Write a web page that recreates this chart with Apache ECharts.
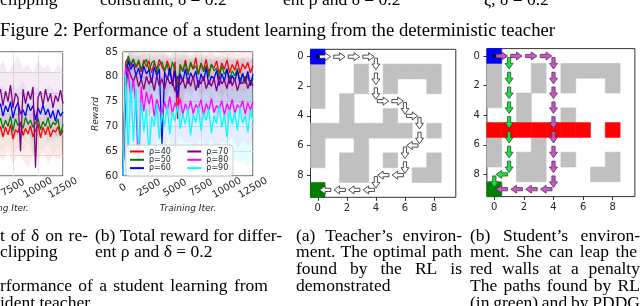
<!DOCTYPE html>
<html><head><meta charset="utf-8">
<script src="https://cdn.jsdelivr.net/npm/echarts@6/dist/echarts.min.js"></script>
<style>html,body{margin:0;padding:0;background:#fff}#c{width:640px;height:306px}</style>
</head><body><div id="c"></div>
<script>
// ---------------- DATA ----------------
// (b) Total reward, sampled every 250 iterations from 0 to 12500
var rho40 = [60,83,83.8,82.2,83.5,81.8,83,81,83.4,82,83.2,80.8,82.8,81.5,83.5,82,81,83.2,81.8,78.5,83,71.5,82.5,81.2,83.4,80.8,82.6,81.5,83.8,80.5,82.8,81.4,83.5,80.8,82.4,81.8,83.2,80.6,82.8,81.5,83.4,80.8,82.5,81.3,83.3,80.7,82.6,81.6,82.9,80.8,82.2];
var rho50 = [60,81,84.2,82.5,83.6,82,83.4,81.5,82.8,83.5,81.2,82.8,83.3,80.8,82.5,83,81.2,82.6,80.2,83,81.4,77.8,82.4,81,82.8,80.3,83,81.6,82.2,80.4,82.7,81,82.3,80,82.6,81.2,81.8,79.8,82.2,80.5,81.6,79.6,81.2,80.2,81.7,79.2,80.8,78.6,80.3,78.2,79.8];
var rho60 = [60,79,83.2,81.5,82.6,80.2,81.8,79.5,82.2,80.6,81.4,78.8,82,80.2,81.6,66.5,81,79.4,81.7,78.2,81.2,75.8,80.6,79,81.6,78.6,80.8,79.6,81.2,77.8,80.6,79.2,81.8,78.4,80.2,79.6,81.3,78.2,80.7,79.1,81.6,78.6,80.3,79.2,81.2,78.5,80.6,79.1,81.1,78.2,80.5];
var rho70 = [60,77,82,80.2,79,80.6,78,79.6,77.4,80.1,78.5,79.7,77.2,80.2,78.2,79.6,77.5,80,78.6,79.2,77,80.2,78.4,79.6,77.6,79.8,78.1,80.2,77.2,79.2,78.6,80.1,77.6,79.2,78.1,79.7,77.1,80.1,78.6,79.3,77.6,80.2,78.2,79.6,77.2,79.1,78.6,80.1,77.6,79.3,78.2];
var rho80 = [60,82,80.5,76,79.5,74,60.5,78,73,77,74.5,76.5,72,75.5,73.5,72,75,73,76,72.5,74.8,73.2,75.6,72.4,74.6,73,75.2,72.6,74.4,73.6,75.4,72.2,74.6,73.2,75.6,72.8,74.2,73.5,75.2,72.3,74.6,73.2,75.5,72.6,74.4,73.6,75.2,72.5,74.8,73.3,75];
var rho90 = [60,80.5,64,79,67,77.5,65,75,69,73.5,63.5,72,70,74.5,67.5,72.8,70.2,74,68.5,73,71,74.2,69.5,72.6,70.4,73.8,68.2,72.4,70.8,74,69.2,72.8,71.2,73.6,68.6,72.2,70.6,74.2,69.8,72.5,67.8,73.4,70.4,72.8,69.2,73.9,70.6,72.2,68.8,73.4,71];
// pale spread bands, every 500 iterations from 0 to 12500
var band40Lo = [60,78,77,79,76,78.5,77,79,75,78,77.5,70,78,77,79,76.5,78,77.5,79,76,78,77,78.5,76.5,78,77];
var band40Hi = [62,85,85,84.5,85,84.8,85,84.6,85,84.4,85,84.8,85,84.5,85,84.9,84.6,85,84.4,85,84.7,85,84.5,85,84.6,85];
var band50Lo = [60,77,78,76.5,78,75.5,77,76,74,77.5,75,73,77,76,78,75,77,74.5,76.5,75,76,74,75.5,73.5,75,74];
var band50Hi = [62,85,84.8,85,84.5,84.8,84.3,85,84.6,84.2,84.8,84.5,84.6,84.2,84.7,84.4,84.2,84.6,84,84.3,83.8,84.2,83.6,84,83.4,83.8];
var band60Lo = [60,74,76,73,75.5,72,74,66,73.5,72,74.5,71,73,74,72,73.5,71.5,74,72.5,73,71,74,72.5,73.5,71.5,73];
var band60Hi = [62,84.8,84.5,84.2,84.6,83.8,84.2,84,84.5,83.6,84,83.8,84.3,83.5,84.1,83.7,84.3,83.5,84,83.6,84.2,83.4,83.9,83.6,84.1,83.5];
var band70Lo = [60,70,73,71,74,72,73.5,70.5,73,71.5,74,72,73,70,73.5,71,72.5,73.5,71,73,72,70.5,73.5,72,71,73];
var band70Hi = [62,84.5,83.5,84,83.2,83.8,83,83.6,83.2,83.8,83,83.5,83.2,83.7,83,83.4,83.1,83.6,83,83.5,83.2,83.6,83,83.4,83.1,83.5];
var band80Lo = [60,65,62,66,64,67,65.5,68,66,67.5,65,68,66.5,67,65.5,68,66,67.5,65,67,66.5,68,65.5,67,66,67.5];
var band80Hi = [62,84,83,82,81.5,80.5,81,80,80.8,79.6,80.4,79.8,80.6,79.5,80.2,79.8,80.5,79.4,80,79.6,80.3,79.5,80.1,79.7,80.4,79.6];
var band90Lo = [60,60,60,61,60,62,60.5,63,61,64,62,63.5,61.5,64,62.5,63,61,64.5,62,63.5,61.5,64,62.5,63,62,64];
var band90Hi = [62,83,82,80.5,80,79,79.5,78.5,79,78,78.8,77.6,78.4,78,78.6,77.4,78.2,77.8,78.5,77.6,78.1,77.4,78.3,77.8,78.2,77.6];

// partially visible panel on the left, every 250 iterations from 6000 to 12500
var leftRed    = [60.5,62,59.5,61.8,60,62.5,59,61.2,60.5,62.8,59.8,61.5,60.2,62.2,59.5,61,62.5,59.2,61.8,60,62,59.5,61.2,60.6,62,59.8,61];
var leftGreen  = [62.5,64,61.5,63.5,62,64.5,61,63.8,62.2,63,61.5,64.2,62.5,63.5,61.8,62.8,64,61.2,63.2,62,64.2,61.5,63,62.4,63.8,60,62.5];
var leftBlue   = [66,67.5,64.5,67,65.5,68,64,66.5,67.8,65,66,64.5,67.5,65.8,67,63.5,66.5,65,67.2,64.8,66.2,64,65.8,63.2,66,64.5,65.5];
var leftPurple = [69,71,67,70.5,68,72,66.5,70,69,56,71,67.5,70.5,68.5,71.5,52,69,70.5,67,71,68,70,66.5,69.5,68,70.8,67.5];
// left bands every 500 from 6000 to 12500
var leftRedLo = [55,54,56,53,55,54,52,55,54,56,53,55,54,55];
var leftRedHi = [65,66,64,66,65,67,64,66,65,64,66,65,64,65];
var leftGreenLo = [57,56,58,55,57,56,58,55,57,56,58,55,57,56];
var leftGreenHi = [67,68,66,68,67,69,66,68,67,66,68,67,66,67];
var leftBlueLo = [60,59,61,58,60,59,61,58,60,59,61,58,60,59];
var leftBlueHi = [71,72,70,72,71,73,70,72,71,70,72,71,70,71];
var leftPurpleLo = [62,60,63,58,61,59,62,55,60,62,58,61,59,62];
var leftPurpleHi = [76,78,75,77,79,76,77,75,78,76,77,75,77,76];

var legendNames = ['ρ=40','ρ=50','ρ=60','ρ=70','ρ=80','ρ=90'];
var xTicks = [0,2500,5000,7500,10000,12500];
var gridTicks = [0,2,4,6,8];

// Grid world: walls as [row, col]
var grayWalls = [[1,0],[1,3],[1,5],[1,6],[1,7],[1,8],[2,0],[2,3],[2,5],[2,8],[3,0],[3,2],[4,2],[4,5],
  [6,0],[6,3],[7,0],[7,2],[7,3],[7,5],[7,8],[8,2],[8,3],[8,7],[8,8]];
var row5Walls = [[5,0],[5,1],[5,2],[5,3],[5,4],[5,5],[5,6],[5,8]];
var startCell = [0,0];
var goalCell = [9,0];
// paths as [row, col, direction]
var teacherPath = [[0,0,'R'],[0,1,'R'],[0,2,'R'],[0,3,'R'],[0,4,'D'],[1,4,'D'],[2,4,'D'],[3,4,'R'],[3,5,'R'],[3,6,'D'],
  [4,6,'R'],[4,7,'D'],[5,7,'D'],[6,7,'L'],[6,6,'D'],[7,6,'D'],[8,6,'L'],[8,5,'L'],[8,4,'D'],[9,4,'L'],[9,3,'L'],[9,2,'L'],[9,1,'L']];
var greenPath = [[0,0,'R'],[0,1,'D'],[1,1,'D'],[2,1,'D'],[3,1,'D'],[4,1,'D'],[5,1,'D'],[6,1,'D'],[7,1,'D'],[8,1,'L'],[8,0,'D']];
var purplePath = [[0,0,'R'],[0,1,'R'],[0,2,'R'],[0,3,'R'],[0,4,'D'],[1,4,'D'],[2,4,'D'],[3,4,'D'],[4,4,'D'],[5,4,'D'],
  [6,4,'D'],[7,4,'D'],[8,4,'D'],[9,4,'L'],[9,3,'L'],[9,2,'L'],[9,1,'L']];

// captions
var topCut = ['clipping','constraint, δ = 0.2','ent ρ and δ = 0.2','ζ, δ = 0.2'];
var figCaption = 'Figure 2: Performance of a student learning from the deterministic teacher';
var capLeft = ['t of δ on re-','clipping','rformance of a student learning from','ident teacher'];
var capB = ['(b) Total reward for differ-','ent ρ and δ = 0.2'];
var capTeacher = ['(a) Teacher’s environ-','ment. The optimal path','found by the RL is','demonstrated'];
var capStudent = ['(b) Student’s environ-','ment. She can leap the','red walls at a penalty','The paths found by RL','(in green) and by PDDG'];

// ---------------- BUILD ----------------
function range(a,b,s){var o=[];for(var v=a;v<=b;v+=s)o.push(v);return o;}
var it250 = range(0,12500,250), it500 = range(0,12500,500);
var itL250 = range(6000,12500,250), itL500 = range(6000,12500,500);
function pairs(xs, ys){var o=[];for(var i=0;i<Math.min(xs.length,ys.length);i++)o.push([xs[i],ys[i]]);return o;}

var COLORS = ['#ff0000','#008000','#0000ff','#800080','#ff00ff','#00ffff'];
function rgba(hex,a){var n=parseInt(hex.slice(1),16);return 'rgba('+(n>>16)+','+((n>>8)&255)+','+(n&255)+','+a+')';}
var FONT = 'DejaVu Sans', TXT = '#262626';
var series = [];
function band(xs, lo, hi, color, xi, op){
  var d = []; for (var i=0;i<xs.length;i++) d.push([xs[i], lo[i], hi[i]]);
  var fill = rgba(color, op);
  series.push({type:'custom', xAxisIndex:xi, yAxisIndex:xi, data:d, dimensions:['x','lo','hi'], encode:{x:0, y:[1,2]},
    clip:true, silent:true, z:1,
    renderItem:function(params, api){
      if (params.dataIndexInside !== 0) return null;
      var n = params.dataInsideLength, top=[], bot=[];
      for (var i=0;i<n;i++){
        top.push(api.coord([api.value(0,i), api.value(2,i)]));
        bot.push(api.coord([api.value(0,i), api.value(1,i)]));
      }
      return {type:'polygon', shape:{points: top.concat(bot.reverse())}, style:{fill:fill}};
    }});
}
function mainLine(name, xs, ys, color, xi){
  series.push({type:'line', name:name, xAxisIndex:xi, yAxisIndex:xi, data:pairs(xs,ys), symbol:'none',
    lineStyle:{width:1.3, color:color}, itemStyle:{color:color}, z:3});
}
// left panel
band(itL500, leftRedLo, leftRedHi, COLORS[0], 0, 0.08);
band(itL500, leftGreenLo, leftGreenHi, COLORS[1], 0, 0.05);
band(itL500, leftBlueLo, leftBlueHi, COLORS[2], 0, 0.05);
band(itL500, leftPurpleLo, leftPurpleHi, COLORS[3], 0, 0.08);
mainLine('L40', itL250, leftRed, COLORS[0], 0);
mainLine('L50', itL250, leftGreen, COLORS[1], 0);
mainLine('L60', itL250, leftBlue, COLORS[2], 0);
mainLine('L70', itL250, leftPurple, COLORS[3], 0);
// middle panel
var bandsLo = [band40Lo,band50Lo,band60Lo,band70Lo,band80Lo,band90Lo];
var bandsHi = [band40Hi,band50Hi,band60Hi,band70Hi,band80Hi,band90Hi];
var mains = [rho40,rho50,rho60,rho70,rho80,rho90];
var bandOp = [0.08,0.07,0.06,0.07,0.08,0.1];
for (var k=0;k<6;k++) band(it500, bandsLo[k], bandsHi[k], COLORS[k], 1, bandOp[k]);
for (var k=0;k<6;k++) mainLine(legendNames[k], it250, mains[k], COLORS[k], 1);

// grid worlds
var CELL = {gray:'#c0c0c0', red:'#ff0000', blue:'#0000ff', green:'#007f00'};
function cellData(rowFive){
  var d = [];
  grayWalls.forEach(function(w){d.push([w[1],w[0],'gray']);});
  row5Walls.forEach(function(w){d.push([w[1],w[0],rowFive]);});
  d.push([startCell[1],startCell[0],'blue']);
  d.push([goalCell[1],goalCell[0],'green']);
  return d;
}
function renderCell(params, api){
  var c=api.value(0), r=api.value(1), col=CELL[api.value(2)];
  var p0=api.coord([c-0.5,r-0.5]), p1=api.coord([c+0.5,r+0.5]);
  return {type:'rect', shape:{x:Math.min(p0[0],p1[0]), y:Math.min(p0[1],p1[1]), width:Math.abs(p1[0]-p0[0]), height:Math.abs(p1[1]-p0[1])},
    style:{fill:col, stroke:col, lineWidth:0.6}};
}
var DIRS = {R:[1,0], L:[-1,0], D:[0,1], U:[0,-1]};
function arrowRenderer(fill, stroke){
  return function(params, api){
    var c=api.value(0), r=api.value(1), d=DIRS[api.value(2)];
    var dx=d[0], dy=d[1], px=-dy, py=dx;
    function P(a,w){return api.coord([c+dx*a+px*w, r+dy*a+py*w]);}
    var pts=[P(0.1,0.11),P(0.5,0.11),P(0.5,0.27),P(0.88,0),P(0.5,-0.27),P(0.5,-0.11),P(0.1,-0.11)];
    return {type:'polygon', shape:{points:pts}, style:{fill:fill, stroke:stroke, lineWidth:0.8}};
  };
}
function pathData(p){return p.map(function(s){return [s[1],s[0],s[2]];});}
function addGrid(gi, rowFive, paths){
  series.push({type:'custom', xAxisIndex:gi, yAxisIndex:gi, renderItem:renderCell, data:cellData(rowFive),
    dimensions:['x','y',{name:'t',type:'ordinal'}], encode:{x:0,y:1}, silent:true, z:2});
  paths.forEach(function(p){
    series.push({type:'custom', xAxisIndex:gi, yAxisIndex:gi, renderItem:arrowRenderer(p.fill,p.stroke), data:pathData(p.data),
      dimensions:['x','y',{name:'d',type:'ordinal'}], encode:{x:0,y:1}, silent:true, z:4});
  });
  series.push({type:'scatter', xAxisIndex:gi, yAxisIndex:gi, data:[[startCell[1],startCell[0]]], symbolSize:4,
    itemStyle:{color:'#000'}, silent:true, z:5});
}
addGrid(2, 'gray', [{data:teacherPath, fill:'#ffffff', stroke:'#222'}]);
addGrid(3, 'red', [{data:greenPath, fill:'#22dd44', stroke:'#225522'}, {data:purplePath, fill:'#cc55cc', stroke:'#553355'}]);

// axes
function lineAxisX(gi){
  return {gridIndex:gi, type:'value', min:0, max:12500, interval:2500,
    axisLine:{show:false, onZero:false}, axisTick:{show:false}, splitLine:{show:true, lineStyle:{color:'#e3e3e3', width:1}},
    axisLabel:{rotate:30, align:'center', verticalAlign:'middle', margin:12, fontSize:10, color:TXT, fontFamily:FONT,
      customValues:xTicks, formatter:function(v){return String(v);}},
    name:'Training Iter.', nameLocation:'middle', nameGap:28,
    nameTextStyle:{fontStyle:'italic', fontSize:9, color:TXT, fontFamily:FONT}};
}
function gridAxis(gi, isY){
  var a = {gridIndex:gi, type:'value', min:-0.5, max:9.5, splitLine:{show:false}, axisLine:{show:false, onZero:false},
    axisTick:{show:true, length:3.5, customValues:gridTicks, lineStyle:{color:'#333'}},
    axisLabel:{customValues:gridTicks, margin:isY?7:6, fontSize:10, color:TXT, fontFamily:FONT}};
  if (isY) a.inverse = true;
  return a;
}
var xAxis = [lineAxisX(0), lineAxisX(1), gridAxis(2,false), gridAxis(3,false)];
var yAxis = [
  {gridIndex:0, type:'value', min:50, max:80, interval:5, axisLabel:{show:false}, axisLine:{show:false, onZero:false}, axisTick:{show:false},
    splitLine:{lineStyle:{color:'#e3e3e3'}}},
  {gridIndex:1, type:'value', min:60, max:85, interval:5, axisLine:{show:false, onZero:false}, axisTick:{show:false},
    splitLine:{lineStyle:{color:'#e3e3e3'}},
    axisLabel:{margin:5, fontSize:10, color:TXT, fontFamily:FONT},
    name:'Reward', nameLocation:'middle', nameGap:23, nameRotate:90,
    nameTextStyle:{fontStyle:'italic', fontSize:9, color:TXT, fontFamily:FONT}},
  gridAxis(2,true), gridAxis(3,true)
];

// captions as graphic text
var mctx = document.createElement('canvas').getContext('2d');
function tw(s,font){mctx.font=font;return mctx.measureText(s).width;}
var graphics = [];
function put(s, x, y, font, right){
  var st = function(t){return {text:t, font:font, fill:'#000', textVerticalAlign:'middle', verticalAlign:'middle'};};
  if (right == null){ graphics.push({type:'text', x:x, y:y, style:st(s), silent:true}); return; }
  var words = s.split(' '), tot = 0;
  words.forEach(function(w){tot += tw(w,font);});
  var gap = words.length>1 ? (right-x-tot)/(words.length-1) : 0, cx = x;
  words.forEach(function(w){ graphics.push({type:'text', x:cx, y:y, style:st(w), silent:true}); cx += tw(w,font)+gap; });
}
function fitSize(s, width){ return 16 * width / tw(s, '16px "Liberation Serif"'); }
var capSize = Math.min(18, fitSize(capB[0], 187));
var figSize = Math.min(19, fitSize(figCaption, 555));
var CF = capSize.toFixed(2)+'px "Liberation Serif"', FF = figSize.toFixed(2)+'px "Liberation Serif"';
var R1=236, R2=252, R3=269, R4=286, R5=303;
put(topCut[0], 0, 0, CF); put(topCut[1], 100, 0, CF); put(topCut[2], 283, 0, CF); put(topCut[3], 484, 0, CF);
put(figCaption, 0, 31, FF, 555);
put(capLeft[0], 0, R1, CF, 88); put(capLeft[1], 0, R2, CF);
put(capLeft[2], 0, R4, CF, 268); put(capLeft[3], 0, R5, CF);
put(capB[0], 95, R1, CF, 282); put(capB[1], 95, R2, CF);
put(capTeacher[0], 296, R1, CF, 462); put(capTeacher[1], 296, R2, CF, 462); put(capTeacher[2], 296, R3, CF, 462); put(capTeacher[3], 296, R4, CF);
put(capStudent[0], 470, R1, CF, 640); put(capStudent[1], 470, R2, CF, 637); put(capStudent[2], 470, R3, CF, 640);
put(capStudent[3], 470, R4, CF, 640); put(capStudent[4], 470, R5, CF, 640);

var chart = echarts.init(document.getElementById('c'), null, {renderer:'canvas'});
chart.setOption({
  backgroundColor:'#ffffff', animation:false,
  grid:[
    {left:-62, top:52, width:125, height:124, show:true, borderColor:'#222', borderWidth:1, outerBoundsMode:'none', containLabel:false},
    {left:123, top:52, width:130, height:124, show:true, borderColor:'#222', borderWidth:1, outerBoundsMode:'none', containLabel:false},
    {left:310.5, top:49.3, width:145.3, height:148, show:true, borderColor:'#333', borderWidth:1, outerBoundsMode:'none', containLabel:false},
    {left:486.9, top:48.6, width:148, height:148, show:true, borderColor:'#333', borderWidth:1, outerBoundsMode:'none', containLabel:false}
  ],
  xAxis:xAxis, yAxis:yAxis,
  legend:{left:126, top:145, orient:'vertical', height:26, itemGap:0.3, itemWidth:14, itemHeight:2, icon:'rect',
    padding:[2.5,4.7,3.9,4], backgroundColor:'rgba(255,255,255,0.9)', borderColor:'#cccccc', borderWidth:1, borderRadius:3,
    textStyle:{fontSize:8, fontFamily:FONT, color:TXT, height:7, lineHeight:7},
    data:[{name:legendNames[0],textStyle:{width:38}},{name:legendNames[1],textStyle:{width:38}},{name:legendNames[2],textStyle:{width:38}},
      legendNames[3],legendNames[4],legendNames[5]]},
  series:series,
  graphic:graphics
});
</script></body></html>
